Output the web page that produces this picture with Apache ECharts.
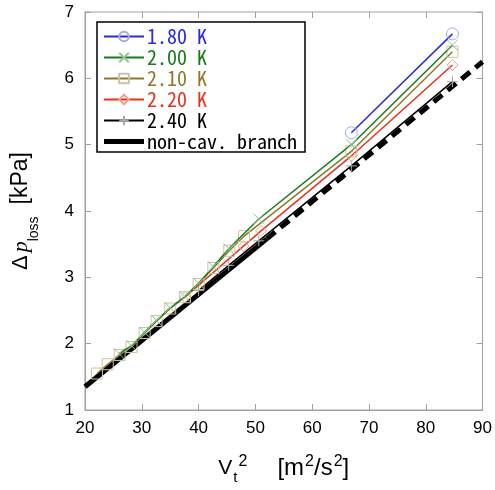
<!DOCTYPE html>
<html><head><meta charset="utf-8">
<script src="https://cdn.jsdelivr.net/npm/echarts@6/dist/echarts.min.js"></script>
<style>html,body{margin:0;padding:0;background:#fff}#c{width:495px;height:490px}</style>
</head><body><div id="c"></div>
<script>
// ---- data ----
const xTicks = [20, 30, 40, 50, 60, 70, 80, 90];
const yTicks = [1, 2, 3, 4, 5, 6, 7];
const seriesNames = ['1.80 K', '2.00 K', '2.10 K', '2.20 K', '2.40 K'];
const x180 = [66.9, 84.7];
const y180 = [5.18, 6.67];
const x200 = [26.0, 28.2, 30.5, 32.6, 35.0, 37.6, 40.0, 42.6, 45.3, 50.6, 66.9, 84.7];
const y200 = [1.85, 1.97, 2.17, 2.35, 2.54, 2.71, 2.91, 3.16, 3.43, 3.88, 5.00, 6.50];
const x210 = [22.1, 24.0, 26.1, 28.2, 30.5, 32.6, 35.0, 37.6, 40.0, 42.6, 45.4, 48.0, 66.9, 84.7];
const y210 = [1.55, 1.69, 1.83, 1.95, 2.16, 2.34, 2.53, 2.70, 2.90, 3.14, 3.40, 3.62, 4.90, 6.40];
const x220 = [37.6, 47.9, 51.0, 66.9, 84.7];
const y220 = [2.70, 3.47, 3.70, 4.83, 6.20];
const x240 = [40.0, 45.3, 50.6, 66.9, 84.7];
const y240 = [2.80, 3.18, 3.55, 4.68, 5.95];
const xNonCavSolid = [20, 52];
const yNonCavSolid = [1.35, 3.58];
const xNonCavDash = [52, 90];
const yNonCavDash = [3.58, 6.25];

const zip = (a, b) => a.map((v, i) => [v, b[i]]);
const lineCol = ['#2a2ae0', '#1c7a1c', '#8c7a2c', '#e8321e', '#000000'];
const markCol = ['#a8a8e8', '#94c494', '#ccc4a4', '#f0a494', '#a8a8a8'];
const syms = ['circle', 'path://M0,0L10,10M10,0L0,10', 'rect', 'diamond', 'path://M5,0L5,10M0,5L10,5'];
const xs = [x180, x200, x210, x220, x240];
const ys = [y180, y200, y210, y220, y240];

const series = seriesNames.map((n, i) => ({
  name: n, type: 'line', data: zip(xs[i], ys[i]),
  symbol: syms[i], symbolSize: i === 0 ? 12 : 11, showAllSymbol: true,
  lineStyle: { color: lineCol[i], width: 1.5 },
  itemStyle: { color: 'rgba(255,255,255,0)', borderColor: markCol[i], borderWidth: 1 },
  z: 5 - i, animation: false
}));
series.push({
  name: 'non-cav. branch', type: 'line', data: zip(xNonCavSolid, yNonCavSolid),
  symbol: 'none', lineStyle: { color: '#000', width: 5 }, itemStyle: { color: '#000' }, z: 1, animation: false
});
series.push({
  name: 'non-cav. branch', type: 'line', data: zip(xNonCavDash, yNonCavDash),
  symbol: 'none', lineStyle: { color: '#000', width: 5, type: [11, 7] }, itemStyle: { color: '#000' }, z: 1, animation: false
});

const legFont = 'Noto Sans Mono CJK JP, DejaVu Sans Mono, monospace';
const sans = 'Liberation Sans, Arial';
const tick = { inside: true, length: 6, lineStyle: { color: '#a0a0a0' } };
const chart = echarts.init(document.getElementById('c'), null, { renderer: 'canvas' });
chart.setOption({
  backgroundColor: '#fff',
  animation: false,
  grid: { left: 85, right: 12, top: 12, bottom: 78, show: true, borderColor: '#a0a0a0', borderWidth: 1 },
  legend: {
    left: 97, top: 22, orient: 'vertical',
    itemWidth: 40, itemHeight: 12, itemGap: 0,
    borderColor: '#000', borderWidth: 1.5, padding: [4, 8, 0, 6],
    backgroundColor: '#fff',
    data: seriesNames.map((n, i) => ({ name: n, textStyle: { color: lineCol[i] } }))
      .concat([{ name: 'non-cav. branch', icon: 'path://M0,0H40V5H0Z', textStyle: { color: '#000' } }]),
    textStyle: { fontFamily: legFont, fontSize: 20, lineHeight: 21, height: 21, padding: [0, 0, 0, -2] }
  },
  xAxis: [{
    type: 'value', min: 20, max: 90, interval: 10,
    axisLine: { lineStyle: { color: '#a0a0a0' } },
    axisTick: tick, splitLine: { show: false },
    axisLabel: { color: '#000', fontSize: 17, fontFamily: sans, margin: 10,
      formatter: v => xTicks.includes(v) ? String(v) : '' },
    name: '{v|V}{sub|t}{sup|2}{ub|[m}{sup|2}{u|/s}{sup|2}{u|]}',
    nameLocation: 'middle', nameGap: 42,
    nameTextStyle: {
      color: '#000', fontFamily: sans,
      rich: {
        v: { fontSize: 21, fontFamily: sans },
        u: { fontSize: 24, fontFamily: sans },
        ub: { fontSize: 24, fontFamily: sans, padding: [0, 0, 0, 30] },
        sub: { fontSize: 15, padding: [18, 0, 0, 1], fontFamily: sans },
        sup: { fontSize: 16, padding: [0, 0, 14, 1], fontFamily: sans }
      }
    }
  }, {
    type: 'value', min: 20, max: 90, interval: 10, position: 'top',
    axisLine: { show: false }, axisLabel: { show: false }, splitLine: { show: false },
    axisTick: tick
  }],
  yAxis: [{
    type: 'value', min: 1, max: 7, interval: 1,
    axisLine: { lineStyle: { color: '#a0a0a0' } },
    axisTick: tick, splitLine: { show: false },
    axisLabel: { color: '#000', fontSize: 17, fontFamily: sans, margin: 11,
      formatter: v => yTicks.includes(v) ? String(v) : '' },
    name: '{d|Δ}{p|p}{sub|loss}{u|[kPa]}',
    nameLocation: 'middle', nameGap: 44, nameRotate: 90,
    nameTextStyle: {
      color: '#000',
      rich: {
        d: { fontSize: 22, fontFamily: sans },
        p: { fontSize: 22, fontStyle: 'italic', fontFamily: 'Liberation Serif, serif', padding: [0, 0, 0, 3] },
        sub: { fontSize: 14, padding: [26, 0, 0, 0], fontFamily: sans },
        u: { fontSize: 23, fontFamily: sans, padding: [0, 0, 0, 12] }
      }
    }
  }, {
    type: 'value', min: 1, max: 7, interval: 1, position: 'right',
    axisLine: { show: false }, axisLabel: { show: false }, splitLine: { show: false },
    axisTick: tick
  }],
  series: series
});
</script></body></html>
